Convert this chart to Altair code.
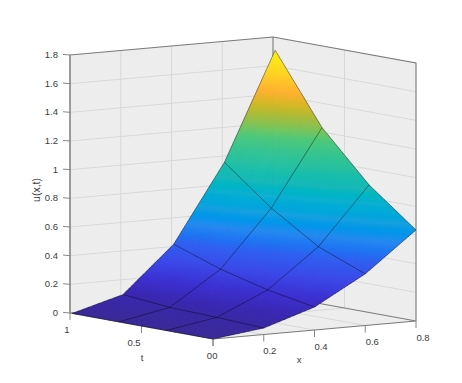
import math
import altair as alt

# --- values ---
x_grid = [0, 0.2, 0.4, 0.6, 0.8]
t_grid = [0, 0.328, 0.657, 0.985]
u_t0 = [0, 0.045, 0.16, 0.36, 0.635]
u_t1 = [0, 0.06, 0.22, 0.49, 0.89]
u_t2 = [0, 0.07, 0.305, 0.70, 1.23]
u_t3 = [0, 0.10, 0.42, 0.96, 1.71]
u_rows = [u_t0, u_t1, u_t2, u_t3]
u_ticks = [0, 0.2, 0.4, 0.6, 0.8, 1, 1.2, 1.4, 1.6, 1.8]
u_labels = ["0", "0.2", "0.4", "0.6", "0.8", "1", "1.2", "1.4", "1.6", "1.8"]
x_ticks = [0, 0.2, 0.4, 0.6, 0.8]
x_labels = ["0", "0.2", "0.4", "0.6", "0.8"]
t_ticks = [0, 0.5, 1]
t_labels = ["0", "0.5", "1"]
color_stops = [0, 0.06, 0.115, 0.18, 0.25, 0.32, 0.386, 0.45, 0.5, 0.57, 0.67,
               0.74, 0.78, 0.836, 0.92, 1]
color_range = ["#3a2a98", "#3a28b0", "#3c30d0", "#3c48e8", "#3060f0", "#2888f0",
               "#18a0e0", "#10b0d0", "#18b8b8", "#28c0a0", "#50c878", "#a0bc40",
               "#c8b828", "#fdb030", "#fdd820", "#f8f410"]
X_MAX, T_MAX, U_MAX = 0.8, 1, 1.8
W, H = 440, 358


def proj(x, t, u):
    """Orthographic axes projection, chart pixels."""
    return [205 + x / X_MAX * 203 - t * 143,
            331 - x / X_MAX * 18 - t * 26 - u / U_MAX * 258]


def line(points, **props):
    return {"type": "Feature", "properties": props,
            "geometry": {"type": "LineString", "coordinates": points}}


def poly(points, **props):
    return {"type": "Feature", "properties": props,
            "geometry": {"type": "Polygon", "coordinates": [points + [points[0]]]}}


geo = alt.Projection(type="identity", scale=1, translate=[0, 0])


def shapes(features, **mark):
    return alt.Chart(alt.Data(values=features)).mark_geoshape(**mark).project(**geo.to_dict())


# walls and floor
walls = [
    poly([proj(0, 1, 0), proj(X_MAX, 1, 0), proj(X_MAX, 1, U_MAX), proj(0, 1, U_MAX)]),
    poly([proj(X_MAX, 0, 0), proj(X_MAX, 1, 0), proj(X_MAX, 1, U_MAX), proj(X_MAX, 0, U_MAX)]),
    poly([proj(0, 0, 0), proj(X_MAX, 0, 0), proj(X_MAX, 1, 0), proj(0, 1, 0)]),
]
grid = []
for u in u_ticks[1:-1]:
    grid.append(line([proj(0, 1, u), proj(X_MAX, 1, u), proj(X_MAX, 0, u)]))
for x in x_ticks[1:-1]:
    grid.append(line([proj(x, 0, 0), proj(x, 1, 0), proj(x, 1, U_MAX)]))
for t in t_ticks[1:-1]:
    grid.append(line([proj(0, t, 0), proj(X_MAX, t, 0), proj(X_MAX, t, U_MAX)]))

frame = [
    line([proj(0, 1, U_MAX), proj(X_MAX, 1, U_MAX), proj(X_MAX, 0, U_MAX), proj(X_MAX, 0, 0)]),
    line([proj(X_MAX, 1, U_MAX), proj(X_MAX, 1, 0)]),
    line([proj(0, 1, 0), proj(X_MAX, 1, 0), proj(X_MAX, 0, 0), proj(0, 0, 0), proj(0, 1, 0)]),
]
z_axis = [line([proj(0, 1, 0), proj(0, 1, U_MAX)])]
ticks = []
for u in u_ticks:
    a = proj(0, 1, u)
    ticks.append(line([[a[0] - 7, a[1] - 0.6], a]))
for x in x_ticks:
    a = proj(x, 0, 0)
    ticks.append(line([a, [a[0], a[1] + 7]]))
for t in t_ticks:
    a = proj(0, t, 0)
    ticks.append(line([a, [a[0], a[1] + 7]]))

# surface: interpolated (per-vertex) shading; each small quad slightly overlaps
# the ones painted before it so no seams show.
cells = []
for j in range(len(t_grid) - 2, -1, -1):
    for i in range(len(x_grid) - 2, -1, -1):
        x0, x1 = x_grid[i], x_grid[i + 1]
        t0, t1 = t_grid[j], t_grid[j + 1]
        q = [u_rows[j][i], u_rows[j][i + 1], u_rows[j + 1][i], u_rows[j + 1][i + 1]]
        steps = max(10, math.ceil((max(q) - min(q)) / 0.02))
        over = 0.35 / steps
        last_i = i == len(x_grid) - 2
        last_j = j == len(t_grid) - 2

        def U(a, b):
            return (q[0] * (1 - a) + q[1] * a) * (1 - b) + (q[2] * (1 - a) + q[3] * a) * b

        def P(a, b):
            return [round(v, 2) for v in
                    proj(x0 + (x1 - x0) * a, t0 + (t1 - t0) * b, U(a, b))]

        for m in range(steps - 1, -1, -1):
            for n in range(steps - 1, -1, -1):
                a0, a1, b0, b1 = n / steps, (n + 1) / steps, m / steps, (m + 1) / steps
                ae = a1 if (last_i and n == steps - 1) else a1 + over
                be = b1 if (last_j and m == steps - 1) else b1 + over
                cells.append(poly([P(a0, b0), P(ae, b0), P(ae, be), P(a0, be)],
                                  u=round(U((a0 + a1) / 2, (b0 + b1) / 2), 4)))

edges = []
for j, t in enumerate(t_grid):
    edges.append(line([proj(x, t, u_rows[j][i]) for i, x in enumerate(x_grid)]))
for i, x in enumerate(x_grid):
    edges.append(line([proj(x, t, u_rows[j][i]) for j, t in enumerate(t_grid)]))

color_scale = alt.Scale(domain=[s * max(u_t3) for s in color_stops], range=color_range)
surface = shapes(cells, stroke=None).encode(
    fill=alt.Fill("properties.u:Q", scale=color_scale, legend=None),
)

# texts
labels = []
for u, s in zip(u_ticks, u_labels):
    a = proj(0, 1, u)
    labels.append({"lon": a[0] - 12, "lat": a[1], "s": s, "al": "right", "ang": 0})
for x, s, dx in zip(x_ticks, x_labels, [2, 6, 6.5, 7, 7]):
    a = proj(x, 0, 0)
    labels.append({"lon": a[0] + dx, "lat": a[1] + 16.5, "s": s, "al": "center", "ang": 0})
for t, s, dx in zip(t_ticks, t_labels, [-3.5, -7.5, -3]):
    a = proj(0, t, 0)
    labels.append({"lon": a[0] + dx, "lat": a[1] + 16.5, "s": s, "al": "center", "ang": 0})
labels.append({"lon": 291, "lat": 352, "s": "x", "al": "center", "ang": 0})
labels.append({"lon": 134, "lat": 350, "s": "t", "al": "center", "ang": 0})
labels.append({"lon": 29, "lat": 182, "s": "u(x,t)", "al": "center", "ang": 270})


def text_layer(rows, **mark):
    return alt.Chart(alt.Data(values=rows)).mark_text(
        font="Liberation Sans", color="#3c3c3c", baseline="middle", **mark
    ).encode(longitude="lon:Q", latitude="lat:Q", text="s:N").project(**geo.to_dict())


text_plain = text_layer([r for r in labels if r["al"] == "center" and r["ang"] == 0],
                        fontSize=9.5, align="center")
text_u = text_layer([r for r in labels if r["al"] == "right"], fontSize=9.5, align="right")
text_rot = text_layer([r for r in labels if r["ang"] == 270], fontSize=10.5, align="center", angle=270)

chart = alt.layer(
    shapes(walls, fill="#ededed", stroke="#ededed", strokeWidth=0.5),
    shapes(grid, filled=False, stroke="#d6d6d6", strokeWidth=0.9),
    shapes(frame, filled=False, stroke="#7a7a7a", strokeWidth=1.1),
    shapes(z_axis, filled=False, stroke="#858585", strokeWidth=1.6),
    shapes(ticks, filled=False, stroke="#7a7a7a", strokeWidth=0.9),
    surface,
    shapes(edges, filled=False, stroke="#000000", strokeOpacity=0.5, strokeWidth=0.8),
    text_plain, text_u, text_rot,
).properties(
    width=W, height=H, padding=0, autosize=alt.AutoSizeParams(type="none"), background="white"
).configure_view(stroke=None)

chart.save("out.html", embed_options={"renderer": "svg", "actions": False})
